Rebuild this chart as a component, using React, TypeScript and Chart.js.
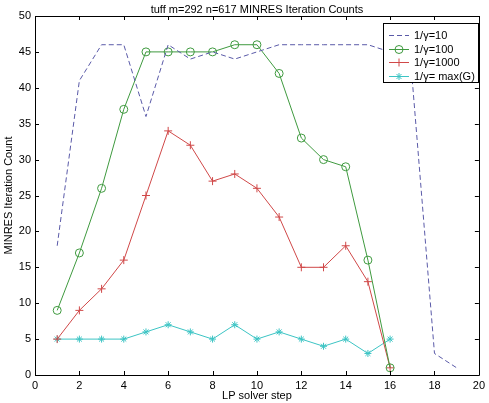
import React, { useEffect, useRef } from "react";
import { Chart, registerables } from "chart.js";
import { drawPoint } from "chart.js/helpers";

Chart.register(...registerables);

const titleText = "tuff m=292 n=617 MINRES Iteration Counts";
const xAxisTitle = "LP solver step";
const yAxisTitle = "MINRES Iteration Count";

const stepsLong = [1, 2, 3, 4, 5, 6, 7, 8, 9, 10, 11, 12, 13, 14, 15, 16, 17, 18, 19];
const stepsShort = [1, 2, 3, 4, 5, 6, 7, 8, 9, 10, 11, 12, 13, 14, 15, 16];

const gamma10 = [18, 41, 46, 46, 36, 46, 44, 45, 44, 45, 46, 46, 46, 46, 46, 45, 41, 3, 1];
const gamma100 = [9, 17, 26, 37, 45, 45, 45, 45, 46, 46, 42, 33, 30, 29, 16, 1];
const gamma1000 = [5, 9, 12, 16, 25, 34, 32, 27, 28, 26, 22, 15, 15, 18, 13, 1];
const gammaMaxG = [5, 5, 5, 5, 6, 7, 6, 5, 7, 5, 6, 5, 4, 5, 3, 5];

const seriesLabels = ["1/γ=10", "1/γ=100", "1/γ=1000", "1/γ= max(G)"];

const xTicks = [0, 2, 4, 6, 8, 10, 12, 14, 16, 18, 20];
const yTicks = [0, 5, 10, 15, 20, 25, 30, 35, 40, 45, 50];

const FONT = "'Liberation Sans', Arial, sans-serif";

const colors = ["#5a5aa8", "#3f9a3f", "#d04848", "#3cc4c4"];

const toPoints = (xs: number[], ys: number[]) => xs.map((x, i) => ({ x, y: ys[i] }));

const framePlugin = {
  id: "matlabFrame",
  afterDatasetsDraw(chart: any) {
    const { ctx, chartArea, scales } = chart;
    const { left, right, top, bottom } = chartArea;
    ctx.save();
    ctx.strokeStyle = "#000";
    ctx.lineWidth = 1;
    ctx.beginPath();
    ctx.rect(Math.round(left) + 0.5, Math.round(top) + 0.5, Math.round(right - left), Math.round(bottom - top));
    ctx.stroke();
    const tl = 4;
    ctx.beginPath();
    for (const v of xTicks) {
      const px = Math.round(scales.x.getPixelForValue(v)) + 0.5;
      ctx.moveTo(px, bottom);
      ctx.lineTo(px, bottom - tl);
      ctx.moveTo(px, top);
      ctx.lineTo(px, top + tl);
    }
    for (const v of yTicks) {
      const py = Math.round(scales.y.getPixelForValue(v)) + 0.5;
      ctx.moveTo(left, py);
      ctx.lineTo(left + tl, py);
      ctx.moveTo(right, py);
      ctx.lineTo(right - tl, py);
    }
    ctx.stroke();

    ctx.fillStyle = "#000";
    ctx.font = `11px ${FONT}`;
    ctx.textAlign = "center";
    ctx.textBaseline = "middle";
    ctx.fillText(titleText, (left + right) / 2, 10);
    ctx.fillText(xAxisTitle, (left + right) / 2, 396);
    ctx.save();
    ctx.translate(9, (top + bottom) / 2);
    ctx.rotate(-Math.PI / 2);
    ctx.fillText(yAxisTitle, 0, 0);
    ctx.restore();

    // legend
    const bx = 383, by = 23, bw = 95, bh = 59;
    ctx.fillStyle = "#fff";
    ctx.fillRect(bx, by, bw, bh);
    ctx.strokeStyle = "#000";
    ctx.strokeRect(bx + 0.5, by + 0.5, bw, bh);
    const dss = chart.data.datasets;
    for (let i = 0; i < dss.length; i++) {
      const ds = dss[i];
      const cy = Math.round(by + 12 + i * 13.5) + 0.5;
      const x0 = bx + 6, x1 = bx + 26;
      ctx.save();
      ctx.strokeStyle = ds.borderColor;
      ctx.lineWidth = 1;
      ctx.setLineDash(ds.borderDash || []);
      ctx.beginPath();
      ctx.moveTo(x0, cy);
      ctx.lineTo(x1, cy);
      ctx.stroke();
      ctx.restore();
      if (ds.pointRadius > 0) {
        ctx.save();
        ctx.strokeStyle = ds.borderColor;
        ctx.fillStyle = ds.backgroundColor;
        ctx.lineWidth = 1;
        drawPoint(ctx, { pointStyle: ds.pointStyle, radius: ds.pointRadius, borderWidth: 1, rotation: 0 } as any, (x0 + x1) / 2, cy);
        ctx.restore();
      }
      ctx.fillStyle = "#000";
      ctx.font = `11px ${FONT}`;
      ctx.textAlign = "left";
      ctx.textBaseline = "middle";
      ctx.fillText(seriesLabels[i], bx + 31, cy + 0.5);
    }
    ctx.restore();
  },
};

export default function App() {
  const ref = useRef<HTMLCanvasElement | null>(null);
  useEffect(() => {
    document.body.style.margin = "0";
    const canvas = ref.current!;
    const chart = new Chart(canvas, {
      type: "line",
      data: {
        datasets: [
          {
            label: seriesLabels[0],
            data: toPoints(stepsLong, gamma10),
            borderColor: colors[0],
            backgroundColor: colors[0],
            borderWidth: 1,
            borderDash: [5, 3],
            pointRadius: 0,
            fill: false,
            tension: 0,
          },
          {
            label: seriesLabels[1],
            data: toPoints(stepsShort, gamma100),
            borderColor: colors[1],
            backgroundColor: "rgba(0,0,0,0)",
            borderWidth: 1,
            pointStyle: "circle",
            pointRadius: 4,
            pointBorderWidth: 1,
            fill: false,
            tension: 0,
          },
          {
            label: seriesLabels[2],
            data: toPoints(stepsShort, gamma1000),
            borderColor: colors[2],
            backgroundColor: colors[2],
            borderWidth: 1,
            pointStyle: "cross",
            pointRadius: 4,
            pointBorderWidth: 1,
            fill: false,
            tension: 0,
          },
          {
            label: seriesLabels[3],
            data: toPoints(stepsShort, gammaMaxG),
            borderColor: colors[3],
            backgroundColor: colors[3],
            borderWidth: 1,
            pointStyle: "star",
            pointRadius: 3.5,
            pointBorderWidth: 1,
            fill: false,
            tension: 0,
          },
        ],
      },
      options: {
        animation: false,
        responsive: false,
        maintainAspectRatio: false,
        layout: { padding: { left: 0, right: 7, top: 16, bottom: 0 } },
        plugins: { legend: { display: false }, title: { display: false }, tooltip: { enabled: false } },
        scales: {
          x: {
            type: "linear",
            min: 0,
            max: 20,
            afterBuildTicks: (s: any) => {
              s.ticks = xTicks.map((v) => ({ value: v }));
            },
            afterFit: (s: any) => {
              s.height = 28;
            },
            grid: { display: false, drawTicks: false },
            border: { display: false },
            ticks: { color: "#000", font: { family: FONT, size: 11 }, padding: 4, maxRotation: 0 },
          },
          y: {
            type: "linear",
            min: 0,
            max: 50,
            afterBuildTicks: (s: any) => {
              s.ticks = yTicks.map((v) => ({ value: v }));
            },
            afterFit: (s: any) => {
              s.width = 35;
            },
            grid: { display: false, drawTicks: false },
            border: { display: false },
            ticks: { color: "#000", font: { family: FONT, size: 11 }, padding: 4 },
          },
        },
      },
      plugins: [framePlugin],
    } as any);
    return () => chart.destroy();
  }, []);
  return (
    <div style={{ position: "absolute", left: 0, top: 0, width: 489, height: 403, background: "#fff" }}>
      <canvas ref={ref} width={489} height={403} style={{ width: 489, height: 403 }} />
    </div>
  );
}
